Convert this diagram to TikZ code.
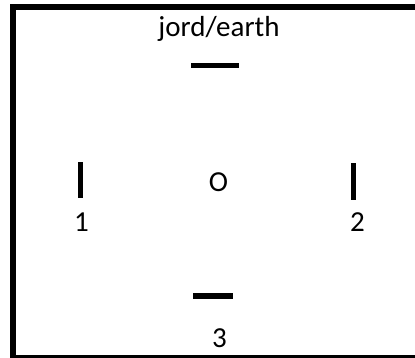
\documentclass[tikz,border=0pt]{standalone}
\usepackage{fontspec}
\setmainfont{Carlito}
\begin{document}
\begin{tikzpicture}[x=1pt,y=-1pt,
  lbl/.style={inner sep=0pt,anchor=base,font=\fontsize{29}{34}\selectfont},
  hbar/.style={fill=black,inner sep=0pt,minimum height=5pt},
  vbar/.style={fill=black,inner sep=0pt,minimum width=5pt}]
\useasboundingbox (0,0) rectangle (415,358);
\clip (0,0) rectangle (415,358);
\draw[line width=6pt] (13,7) rectangle (420,357.5);
\node[lbl] (earth) at (219,37) {jord/earth};
\node[hbar,minimum width=48pt] (top) at (215,65.5) {};
\node[vbar,minimum height=36pt] (left) at (80.5,180) {};
\node[vbar,minimum height=37pt] (right) at (353.5,181.5) {};
\node[lbl] (o) at (218.5,192) {O};
\node[lbl] (one) at (81.5,232) {1};
\node[lbl] (two) at (357.5,232) {2};
\node[hbar,minimum width=40pt,minimum height=6pt] (bottom) at (213,295.5) {};
\node[lbl] (three) at (219.5,347) {3};
\end{tikzpicture}
\end{document}
